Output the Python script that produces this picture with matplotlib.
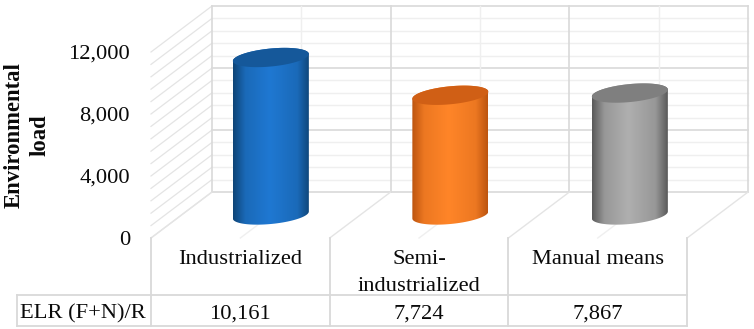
import matplotlib
matplotlib.use("Agg")
import matplotlib.pyplot as plt
import numpy as np
from matplotlib.colors import LinearSegmentedColormap, to_rgb
from matplotlib.patches import Polygon

plt.rcParams["font.family"] = ["Liberation Serif", "DejaVu Serif"]

categories = ["Industrialized", "Semi-\nindustrialized", "Manual means"]
elr_values = [10161, 7724, 7867]
elr_labels = ["10,161", "7,724", "7,867"]
y_ticks = [0, 4000, 8000, 12000]
y_tick_labels = ["0", "4,000", "8,000", "12,000"]
y_minor_step = 800
row_label = "ELR (F+N)/R"
y_title = "Environmental\nload"

bar_colors = [
    ("#0e4577", "#1f78d2", "#15589a"),
    ("#bd5510", "#ff8528", "#d05f15"),
    ("#5a5a5a", "#afafaf", "#7f7f7f"),
]

# pixel scale of the picture, everything below goes through these
W, H = 754, 329
CAT_PX = 178.7
VAL_PX = 0.0155
X0_PX = 240.35
Y0_PX = 238
DEPTH_X = 61 / CAT_PX
DEPTH_V = 46 / VAL_PX
BAR_DEPTH = 0.5
BAR_STEP = 179.5 / CAT_PX
MAJOR = "#d9d9d9"
MINOR = "#efefef"
SIDE = "#e4e4e4"
TEXT = "#0a0a0a"
FS = 16.2


def px_x(p):
    return (p - X0_PX) / CAT_PX


def px_y(p):
    return (Y0_PX - p) / VAL_PX


def wall_grid(ax):
    left, right = -0.5, 2.5
    top = y_ticks[-1]
    for v in np.arange(0, top + 1, y_minor_step):
        major = v in y_ticks
        c, lw = (MAJOR, 1.2) if major else (MINOR, 1.0)
        ax.plot([left + DEPTH_X, right + DEPTH_X],
                [v + DEPTH_V, v + DEPTH_V], color=c, lw=lw, zorder=1)
        ax.plot([left, left + DEPTH_X], [v, v + DEPTH_V], color=SIDE, lw=0.9, zorder=1)
    for i in range(4):
        x = left + i + DEPTH_X
        ax.plot([x, x], [DEPTH_V, top + DEPTH_V], color=MAJOR, lw=1.2, zorder=1)
        if i < 3:
            ax.plot([x + 0.5, x + 0.5], [DEPTH_V, top + DEPTH_V], color=MINOR, lw=1.0, zorder=1)
            ax.plot([i, i + DEPTH_X], [0, DEPTH_V], color=MINOR, lw=1.0, zorder=1)
        ax.plot([left + i, x], [0, DEPTH_V], color=SIDE, lw=1.0, zorder=1)


def cylinder(ax, i, value, colors):
    edge, mid, cap = colors
    cx = i * BAR_STEP + BAR_DEPTH * DEPTH_X
    base = BAR_DEPTH * DEPTH_V
    a = 38 / CAT_PX
    b = 9 / VAL_PX
    tilt = 3.5 / VAL_PX

    t = np.linspace(np.pi, 2 * np.pi, 60)
    low_x = cx + a * np.cos(t)
    low_y = base + tilt * np.cos(t) + b * np.sin(t)
    t2 = np.linspace(0, np.pi, 60)
    up_x = cx + a * np.cos(t2)
    up_y = base + value + tilt * np.cos(t2) + b * np.sin(t2)

    e, m = np.array(to_rgb(edge)), np.array(to_rgb(mid))
    shade = tuple(e + (m - e) * 0.72)
    cmap = LinearSegmentedColormap.from_list(
        "cyl", [(0, edge), (0.16, shade), (0.48, mid), (0.84, shade), (1, edge)])
    grad = np.linspace(0, 1, 200).reshape(1, -1)
    im = ax.imshow(grad, cmap=cmap, aspect="auto", zorder=3, interpolation="bilinear",
                   extent=[cx - a, cx + a, base - 2 * b, base + value + 2 * b])
    body = Polygon(np.column_stack([np.r_[low_x, up_x], np.r_[low_y, up_y]]),
                   closed=True, transform=ax.transData, fc="none", ec="none")
    ax.add_patch(body)
    im.set_clip_path(body)

    t3 = np.linspace(0, 2 * np.pi, 120)
    ax.fill(cx + a * np.cos(t3),
            base + value + tilt * np.cos(t3) + b * np.sin(t3),
            color=cap, lw=0, zorder=4)


def label(ax, x, p, s, ha="center"):
    # p is the baseline row in pixels
    ax.text(x, px_y(p), s, ha=ha, va="baseline", fontsize=FS, color=TEXT)


def data_table(ax):
    left = -0.5
    xs = [left + i for i in range(4)]
    for x in xs:
        ax.plot([x, x], [0, px_y(326)], color=MAJOR, lw=1.3, zorder=1)
    first = px_x(17)
    ax.plot([first, first], [px_y(295), px_y(326)], color=MAJOR, lw=1.3, zorder=1)
    for p in (295, 326):
        ax.plot([first, xs[-1]], [px_y(p), px_y(p)], color=MAJOR, lw=1.3, zorder=1)

    for i, (cat, lab) in enumerate(zip(categories, elr_labels)):
        for k, line in enumerate(cat.split("\n")):
            label(ax, i, 264 + 27 * k, line)
        label(ax, i, 318.5, lab)
    label(ax, px_x(83), 318.5, row_label)


def main():
    fig = plt.figure(figsize=(W / 100, H / 100), dpi=100, facecolor="white")
    ax = fig.add_axes([0, 0, 1, 1])

    wall_grid(ax)
    for i, (val, cols) in enumerate(zip(elr_values, bar_colors)):
        cylinder(ax, i, val, cols)
    data_table(ax)

    for v, lab in zip(y_ticks, y_tick_labels):
        ax.text(px_x(130), v - 7 / VAL_PX, lab, ha="right", va="baseline",
                fontsize=FS, color=TEXT)

    ax.text(px_x(27), px_y(135), y_title, rotation=90, ha="center", va="center",
            fontsize=16.3, fontweight="bold", color=TEXT, linespacing=1.25,
            multialignment="center")

    ax.set_xlim(px_x(0), px_x(W))
    ax.set_ylim(px_y(H), px_y(0))
    ax.axis("off")
    fig.savefig("out.png", dpi=100)
    plt.close(fig)


if __name__ == "__main__":
    main()
